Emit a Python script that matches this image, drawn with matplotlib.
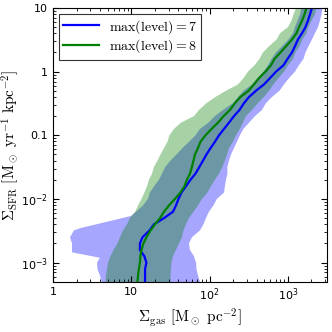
import numpy as np
import matplotlib
matplotlib.use("Agg")
import matplotlib.pyplot as plt

plt.rcParams["mathtext.fontset"] = "cm"

# SFR surface density levels (Msun/yr/kpc^2), shared by most curves
sfr = [4.0e-4, 5.0e-4, 6.3e-4, 7.9e-4, 1.0e-3, 1.26e-3, 1.58e-3, 2.0e-3, 2.5e-3, 3.2e-3,
       4.0e-3, 5.0e-3, 6.3e-3, 7.9e-3, 0.010, 0.0126, 0.0158, 0.020, 0.025, 0.032,
       0.040, 0.050, 0.063, 0.079, 0.10, 0.126, 0.158, 0.20, 0.25, 0.32,
       0.40, 0.50, 0.63, 0.79, 1.0, 1.26, 1.58, 2.0, 2.5, 3.2,
       4.0, 5.0, 6.3, 7.9, 10.0, 12.6]

# max(level)=7 : median and upper envelope of gas surface density
gas7_med = [15.0, 15.0, 15.0, 15.0, 15.6, 14.7, 12.9, 12.9, 13.9, 17.1,
            19.5, 26.2, 34.1, 37.2, 40.1, 43.8, 50.0, 57.0, 66.1, 74.3,
            82.4, 91.3, 103, 117, 132, 153, 177, 205, 241, 275,
            319, 391, 495, 591, 705, 879, 988, 1128, 1232, 1346,
            1514, 1678, 1806, 1915, 2031, 2185]
gas7_hi = [77.6, 75.4, 71.1, 68.0, 67.1, 63.2, 56.2, 54.6, 59.6, 75.4,
           83.6, 90.0, 98.2, 112, 124, 153, 157, 162, 169, 169,
           177, 188, 205, 224, 244, 271, 319, 380, 467, 525,
           627, 781, 892, 1033, 1232, 1386, 1582, 1678, 1832, 2031,
           2218, 2423, 2569, 2685, 2766, 2807]

# lower envelope of max(level)=7 has its own levels (the low-SFR bump)
sfr7_lo = [4.0e-4, 5.0e-4, 6.3e-4, 7.9e-4, 1.0e-3, 1.19e-3, 1.45e-3, 2.0e-3, 2.5e-3, 3.2e-3,
           3.47e-3, 5.4e-3, 6.3e-3, 7.9e-3, 0.010, 0.0126, 0.0158, 0.020, 0.025, 0.032,
           0.040, 0.050, 0.063, 0.079, 0.10, 0.126, 0.158, 0.20, 0.25, 0.32,
           0.40, 0.50, 0.63, 0.79, 1.0, 1.26, 1.58, 2.0, 2.5, 3.2,
           4.0, 5.0, 6.3, 7.9, 10.0, 12.6]
gas7_lo = [4.22, 4.16, 3.98, 3.70, 3.65, 3.98, 1.75, 1.75, 1.65, 1.85,
           2.21, 9.91, 11.5, 14.1, 16.3, 17.3, 19.5, 22.6, 24.7, 27.3,
           31.7, 37.8, 45.1, 54.6, 66.1, 75.4, 96.8, 117, 148, 199,
           231, 271, 348, 409, 488, 557, 617, 705, 841, 1018,
           1161, 1232, 1326, 1427, 1492, 1537]

# max(level)=8
gas8_med = [12.0, 12.0, 12.2, 12.5, 12.9, 13.1, 13.5, 14.3, 15.6, 17.6,
            20.1, 23.3, 26.2, 30.3, 36.1, 42.5, 47.8, 51.4, 56.2, 59.6,
            62.3, 65.1, 71.1, 76.5, 88.6, 106, 128, 151, 182, 211,
            248, 314, 369, 427, 518, 608, 674, 804, 946, 1128,
            1288, 1386, 1514, 1629, 1728, 1832]
gas8_lo = [4.61, 4.68, 4.75, 4.89, 5.04, 5.43, 5.93, 6.66, 7.17, 7.83,
           8.81, 9.62, 11.2, 12.2, 13.5, 14.7, 15.9, 16.8, 18.4, 19.5,
           21.6, 23.6, 26.2, 29.0, 30.7, 35.1, 43.1, 63.2, 73.2, 91.3,
           119, 162, 231, 271, 309, 375, 434, 481, 574, 719,
           793, 1003, 1111, 1179, 1269, 1346]
gas8_hi = [31.7, 31.7, 31.7, 32.1, 32.6, 34.1, 37.2, 40.7, 44.4, 46.4,
           50.0, 54.6, 62.3, 71.1, 80.0, 94.0, 104, 117, 132, 146,
           157, 167, 177, 199, 217, 244, 267, 292, 348, 415,
           495, 574, 655, 759, 892, 1003, 1161, 1250, 1406, 1537,
           1728, 1832, 2001, 2218, 2318, 2423]

fig = plt.figure(figsize=(3.32, 3.32), dpi=100)
ax = fig.add_axes([0.1596, 0.1515, 0.8253, 0.8244])

# shaded ranges
ax.fill(np.r_[gas7_lo, gas7_hi[::-1]], np.r_[sfr7_lo, sfr[::-1]],
        color="blue", alpha=0.35, lw=0)
ax.fill(np.r_[gas8_lo, gas8_hi[::-1]], np.r_[sfr, sfr[::-1]],
        color="green", alpha=0.35, lw=0)

ax.plot(gas7_med, sfr, color="blue", lw=1.6, label=r"$\mathrm{max(level)=7}$")
ax.plot(gas8_med, sfr, color="green", lw=1.6, label=r"$\mathrm{max(level)=8}$")

ax.set_xscale("log")
ax.set_yscale("log")
ax.set_xlim(1, 3162)
ax.set_ylim(5.01e-4, 10)

ax.set_xticks([1, 10, 100, 1000])
ax.set_xticklabels(["1", "10", r"$\mathdefault{10^{2}}$", r"$\mathdefault{10^{3}}$"])
ax.set_yticks([1e-3, 1e-2, 0.1, 1, 10])
ax.set_yticklabels([r"$\mathdefault{10^{-3}}$", r"$\mathdefault{10^{-2}}$", "0.1", "1", "10"])
ax.tick_params(which="both", direction="in", top=True, right=True, labelsize=8)
ax.tick_params(which="major", length=4)
ax.tick_params(which="minor", length=2)

ax.set_xlabel(r"$\Sigma_{\rm gas}\ [{\rm M_\odot\ pc^{-2}}]$", fontsize=11, labelpad=2)
ax.set_ylabel(r"$\Sigma_{\rm SFR}\ [{\rm M_\odot\ yr^{-1}\ kpc^{-2}}]$", fontsize=11, labelpad=0)

leg = ax.legend(loc="upper left", fontsize=10, fancybox=False, edgecolor="black",
                handlelength=2.6, labelspacing=0.15, borderpad=0.3,
                handletextpad=0.7, borderaxespad=0.4)
leg.get_frame().set_linewidth(0.8)

plt.savefig("out.png", dpi=100)
